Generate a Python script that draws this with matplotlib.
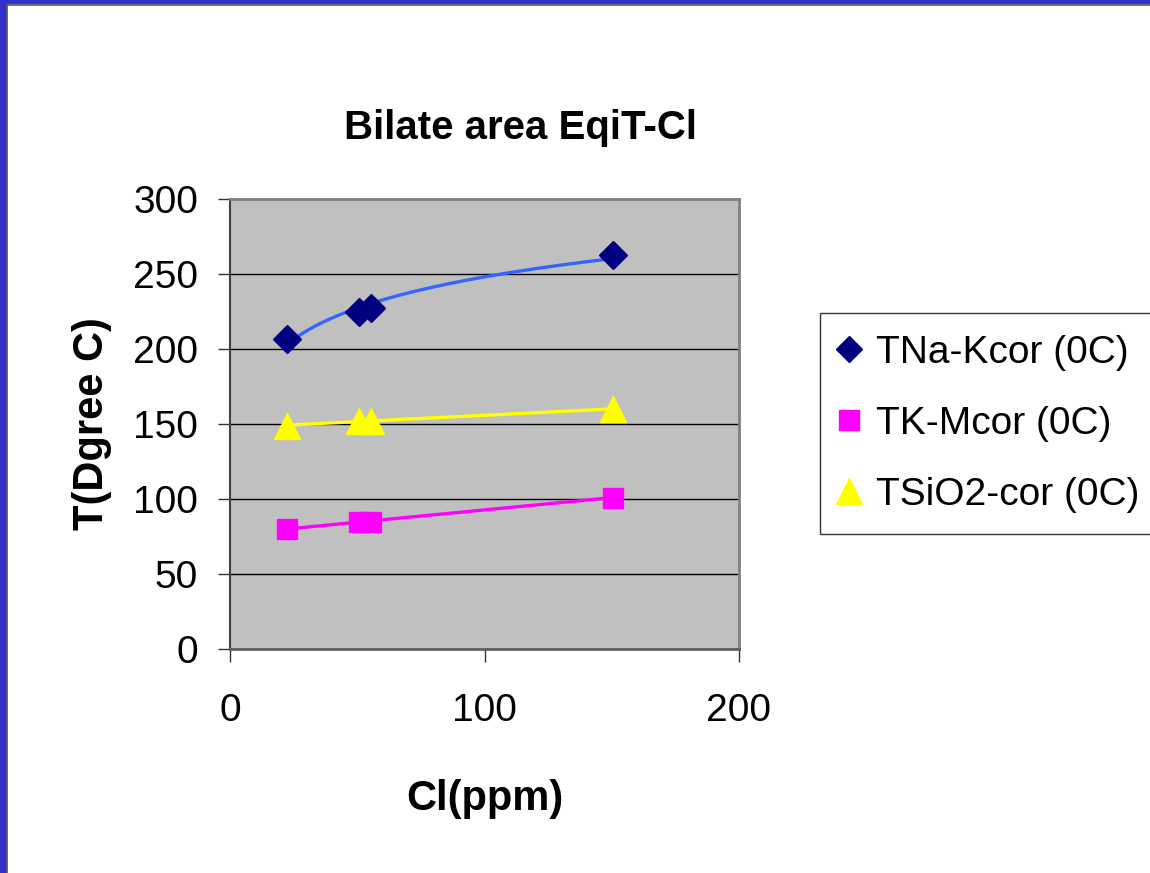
import numpy as np
import matplotlib
matplotlib.use("Agg")
import matplotlib.pyplot as plt
from matplotlib.patches import Rectangle

# data
cl_ppm = [22.4, 50.5, 55.5, 150.3]
t_nak = [206.5, 224.5, 227.5, 263.0]
t_km = [80.0, 85.0, 85.0, 101.0]
t_sio2 = [149.0, 152.0, 152.0, 160.0]

series_names = ["TNa-Kcor (0C)", "TK-Mcor (0C)", "TSiO2-cor (0C)"]

plt.rcParams['font.family'] = ['Liberation Sans', 'DejaVu Sans']

fig = plt.figure(figsize=(11.5, 8.73), dpi=100)
fig.patch.set_facecolor('white')

# blue slide frame (left and top edges visible)
fig.patches.append(Rectangle((0, 0), 7 / 1150, 1, transform=fig.transFigure,
                             facecolor='#3131CC', edgecolor='none', zorder=0))
fig.patches.append(Rectangle((0, 1 - 4 / 873), 1, 4 / 873, transform=fig.transFigure,
                             facecolor='#3131CC', edgecolor='none', zorder=0))
fig.add_artist(plt.Line2D([7 / 1150, 7 / 1150], [0, 1 - 4 / 873], transform=fig.transFigure,
                          color='#555555', lw=1.2))
fig.add_artist(plt.Line2D([7 / 1150, 1], [1 - 5 / 873, 1 - 5 / 873], transform=fig.transFigure,
                          color='#555555', lw=1.2))

ax = fig.add_axes([230 / 1150, 1 - 649 / 873, 509 / 1150, 450 / 873])
ax.set_facecolor('#C0C0C0')

x = np.array(cl_ppm)

# trend lines
xs = np.linspace(x.min(), x.max(), 200)
a, b = np.polyfit(np.log(x), np.array(t_nak), 1)
ax.plot(xs, a * np.log(xs) + b, color='#3366FF', lw=2.4, zorder=3)
p = np.polyfit(x, np.array(t_km), 1)
ax.plot(xs, np.polyval(p, xs), color='#FF00FF', lw=2.4, zorder=3)
p = np.polyfit(x, np.array(t_sio2), 1)
ax.plot(xs, np.polyval(p, xs), color='#FFFF00', lw=2.4, zorder=3)

# markers
ax.plot(x, t_nak, 'D', color='#000080', ms=14, ls='none', zorder=4, label=series_names[0])
ax.plot(x, t_km, 's', color='#FF00FF', ms=15, ls='none', zorder=4, label=series_names[1])
ax.plot(x, t_sio2, '^', color='#FFFF00', ms=19, ls='none', zorder=4, label=series_names[2])

ax.set_xlim(0, 200)
ax.set_ylim(0, 300)
ax.set_xticks([0, 100, 200])
ax.set_yticks(range(0, 301, 50))
ax.yaxis.grid(True, color='black', lw=1)
ax.set_axisbelow(True)
ax.tick_params(labelsize=28, length=9, width=1, color='#333333')
ax.tick_params(axis='x', pad=23)
ax.tick_params(axis='y', pad=14)

for side in ['top', 'right']:
    ax.spines[side].set_color('#808080')
    ax.spines[side].set_linewidth(2)
ax.spines['left'].set_color('#404040')
ax.spines['bottom'].set_color('#606060')
ax.spines['left'].set_linewidth(1.5)
ax.spines['bottom'].set_linewidth(2)

ax.set_xlabel('Cl(ppm)', fontsize=30, fontweight='bold', labelpad=36)
ax.set_ylabel('T(Dgree C)', fontsize=30, fontweight='bold', labelpad=15)

fig.text(521 / 1150, 1 - 128 / 873, 'Bilate area EqiT-Cl', fontsize=29,
         fontweight='bold', ha='center', va='center')

leg = fig.legend(loc='lower left', bbox_to_anchor=(820 / 1150, 1 - 534 / 873),
                 fontsize=28, frameon=True, fancybox=False, edgecolor='black',
                 handlelength=0.4, handletextpad=0.5, labelspacing=0.9,
                 borderpad=0.55, borderaxespad=0, markerscale=0.95)
leg.get_frame().set_linewidth(1)

fig.savefig('out.png', dpi=100)
